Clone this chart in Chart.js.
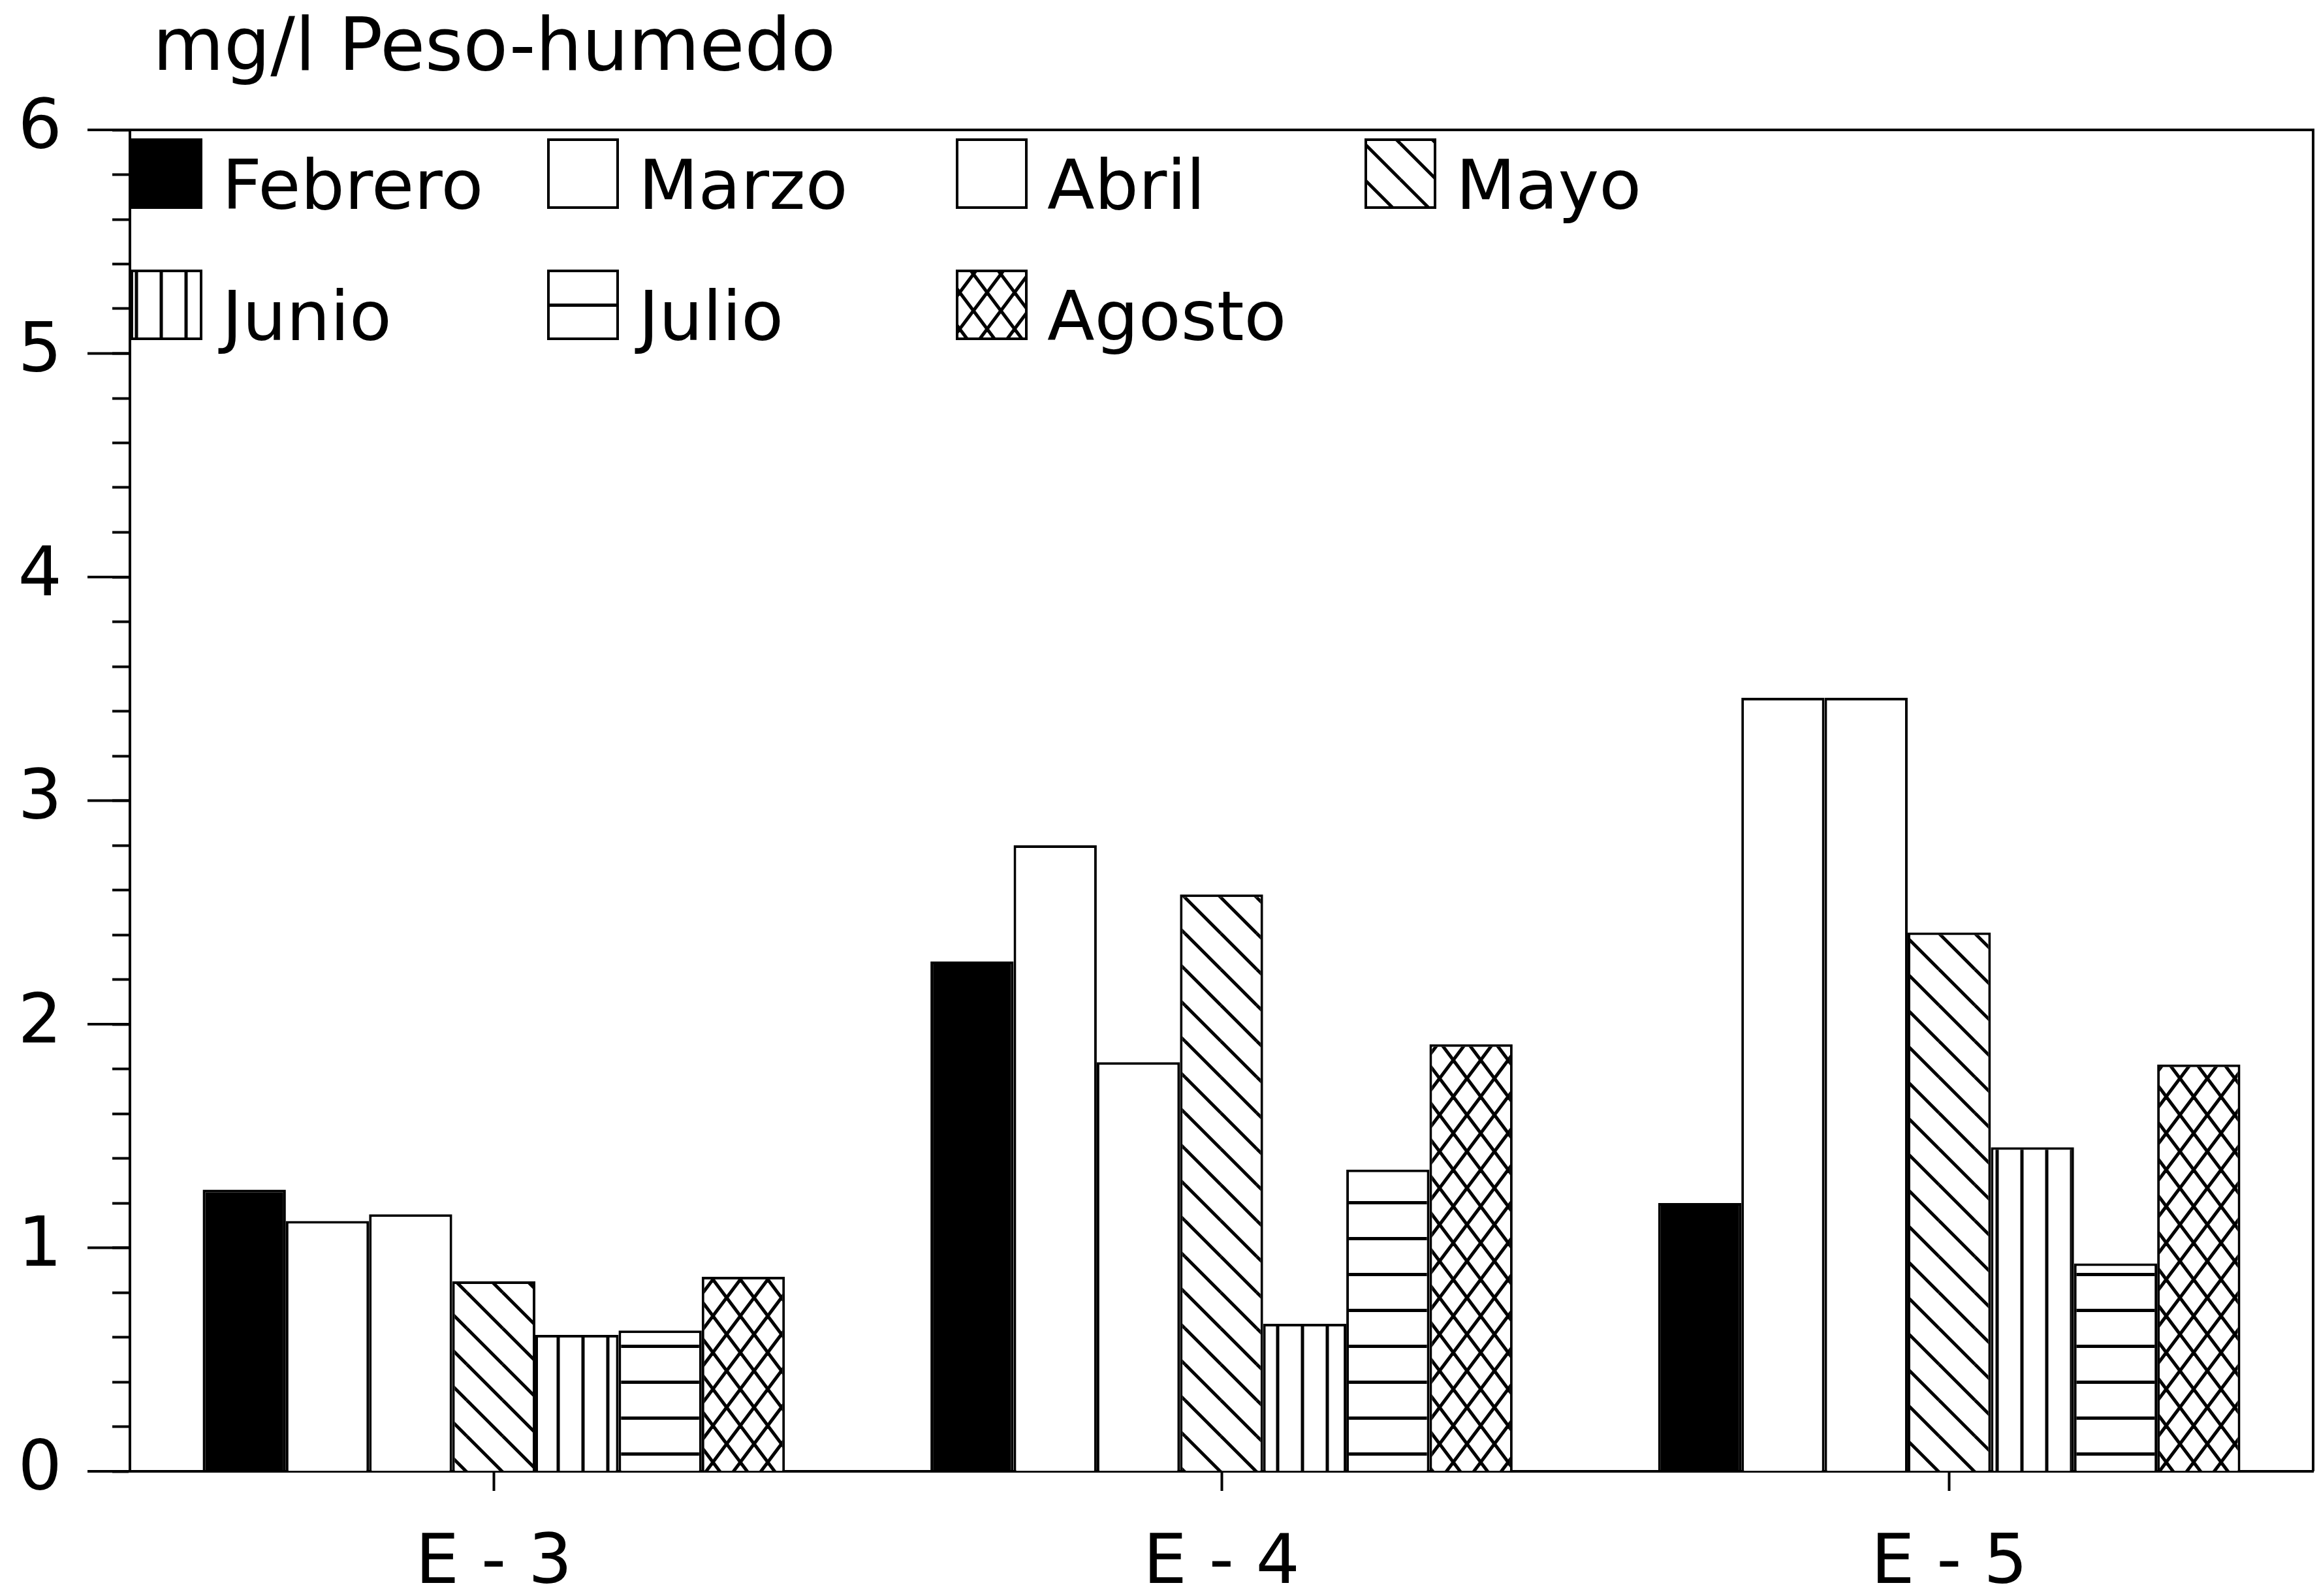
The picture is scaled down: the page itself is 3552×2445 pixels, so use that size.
<!DOCTYPE html>
<html>
<head>
<meta charset="utf-8">
<script src="https://cdn.jsdelivr.net/npm/chart.js@4.4.1/dist/chart.umd.min.js"></script>
<style>
  html, body { margin: 0; padding: 0; background: #fff; }
</style>
</head>
<body>
<canvas id="chart" width="3552" height="2445"></canvas>
<script>
// data
const stations = ['E - 3', 'E - 4', 'E - 5'];
const months = ['Febrero', 'Marzo', 'Abril', 'Mayo', 'Junio', 'Julio', 'Agosto'];
const febrero = [1.26, 2.28, 1.20];
const marzo   = [1.12, 2.80, 3.46];
const abril   = [1.15, 1.83, 3.46];
const mayo    = [0.85, 2.58, 2.41];
const junio   = [0.61, 0.66, 1.45];
const julio   = [0.63, 1.35, 0.93];
const agosto  = [0.87, 1.91, 1.82];
const yLabels = [0, 1, 2, 3, 4, 5, 6];
const unitTitle = 'mg/l Peso-humedo';

const FONT = '"DejaVu Sans", sans-serif';
const FSIZE = 106;

// hatch fills like the old b/w printout
function hatch(kind) {
  let c = document.createElement('canvas');
  let ctx = c.getContext('2d');
  let w, h;
  if (kind === 'diag') { w = 55; h = 55; }
  else if (kind === 'vert') { w = 38; h = 10; }
  else if (kind === 'horiz') { w = 10; h = 55; }
  else { w = 42; h = 56; }
  c.width = w; c.height = h;
  ctx.fillStyle = '#fff';
  ctx.fillRect(0, 0, w, h);
  ctx.strokeStyle = '#000';
  ctx.lineWidth = 5;
  if (kind === 'vert') {
    ctx.beginPath(); ctx.moveTo(w / 2, 0); ctx.lineTo(w / 2, h); ctx.stroke();
  } else if (kind === 'horiz') {
    ctx.beginPath(); ctx.moveTo(0, h / 2); ctx.lineTo(w, h / 2); ctx.stroke();
  } else {
    for (let dx of [-w, 0, w]) {
      for (let dy of [-h, 0, h]) {
        ctx.beginPath(); ctx.moveTo(dx, dy); ctx.lineTo(dx + w, dy + h); ctx.stroke();
        if (kind === 'cross') {
          ctx.beginPath(); ctx.moveTo(dx + w, dy); ctx.lineTo(dx, dy + h); ctx.stroke();
        }
      }
    }
  }
  return ctx.createPattern(c, 'repeat');
}

const fills = ['#000', '#fff', '#fff', hatch('diag'), hatch('vert'), hatch('horiz'), hatch('cross')];
const series = [febrero, marzo, abril, mayo, junio, julio, agosto];

const datasets = months.map((m, i) => ({
  label: m,
  data: series[i],
  backgroundColor: fills[i],
  borderColor: '#000',
  borderWidth: 4,
  categoryPercentage: 0.8,
  barPercentage: 1.0
}));

// title, legend grid, long integer ticks and frame
const extras = {
  id: 'extras',
  afterDraw(chart) {
    const ctx = chart.ctx;
    const area = chart.chartArea;
    const y = chart.scales.y;
    ctx.save();
    ctx.fillStyle = '#000';
    ctx.strokeStyle = '#000';
    ctx.lineWidth = 4;

    ctx.font = '112px ' + FONT;
    ctx.textBaseline = 'alphabetic';
    ctx.textAlign = 'left';
    ctx.fillText(unitTitle, 234, 107);

    yLabels.forEach(v => {
      let py = y.getPixelForValue(v);
      ctx.beginPath(); ctx.moveTo(area.left - 65, py); ctx.lineTo(area.left, py); ctx.stroke();
    });

    ctx.beginPath();
    ctx.moveTo(area.left, area.top);
    ctx.lineTo(area.right, area.top);
    ctx.lineTo(area.right, area.bottom);
    ctx.stroke();

    ctx.font = FSIZE + 'px ' + FONT;
    const cols = [200, 838, 1464, 2090];
    chart.data.datasets.forEach((ds, i) => {
      let row = i < 4 ? 0 : 1;
      let bx = cols[row === 0 ? i : i - 4];
      let by = 212 + row * 201;
      ctx.fillStyle = ds.backgroundColor;
      ctx.fillRect(bx, by, 110, 108);
      ctx.strokeRect(bx + 2, by + 2, 106, 104);
      ctx.fillStyle = '#000';
      ctx.fillText(ds.label, bx + 140, by + 108);
    });
    ctx.restore();
  }
};

new Chart(document.getElementById('chart'), {
  type: 'bar',
  data: { labels: stations, datasets: datasets },
  options: {
    responsive: false,
    animation: false,
    layout: { padding: { top: 199, right: 9, left: 0, bottom: 0 } },
    plugins: {
      legend: { display: false },
      tooltip: { enabled: false },
      title: { display: false }
    },
    scales: {
      x: {
        offset: true,
        grid: { offset: false, drawOnChartArea: false, tickLength: 30, tickWidth: 4, tickColor: '#000' },
        border: { display: true, color: '#000', width: 4 },
        ticks: { color: '#000', font: { family: FONT, size: FSIZE }, padding: 50 },
        afterFit: s => { s.height = 191; }
      },
      y: {
        min: 0,
        max: 6,
        ticks: {
          stepSize: 0.2,
          autoSkip: false,
          color: '#000',
          font: { family: FONT, size: FSIZE },
          padding: 77,
          callback: v => Math.abs(v - Math.round(v)) < 1e-6 ? String(Math.round(v)) : ''
        },
        grid: { drawOnChartArea: false, tickLength: 27, tickWidth: 4, tickColor: '#000' },
        border: { display: true, color: '#000', width: 4 },
        afterFit: s => { s.width = 199; }
      }
    }
  },
  plugins: [extras]
});
</script>
</body>
</html>
